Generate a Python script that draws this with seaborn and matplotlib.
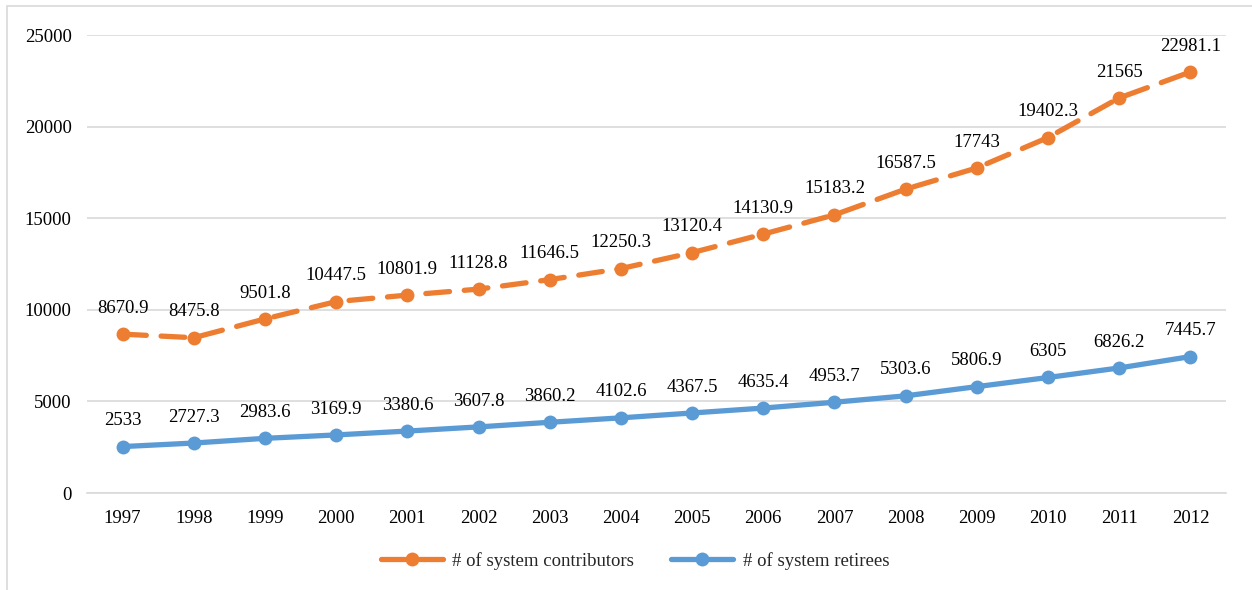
import matplotlib
matplotlib.use("Agg")
import matplotlib.pyplot as plt
import seaborn as sns
import pandas as pd
from matplotlib.patches import Rectangle

years = ["1997", "1998", "1999", "2000", "2001", "2002", "2003", "2004",
         "2005", "2006", "2007", "2008", "2009", "2010", "2011", "2012"]
contributors = [8670.9, 8475.8, 9501.8, 10447.5, 10801.9, 11128.8, 11646.5, 12250.3,
                13120.4, 14130.9, 15183.2, 16587.5, 17743, 19402.3, 21565, 22981.1]
retirees = [2533, 2727.3, 2983.6, 3169.9, 3380.6, 3607.8, 3860.2, 4102.6,
            4367.5, 4635.4, 4953.7, 5303.6, 5806.9, 6305, 6826.2, 7445.7]
contrib_labels = ["8670.9", "8475.8", "9501.8", "10447.5", "10801.9", "11128.8", "11646.5",
                  "12250.3", "13120.4", "14130.9", "15183.2", "16587.5", "17743",
                  "19402.3", "21565", "22981.1"]
retiree_labels = ["2533", "2727.3", "2983.6", "3169.9", "3380.6", "3607.8", "3860.2",
                  "4102.6", "4367.5", "4635.4", "4953.7", "5303.6", "5806.9", "6305",
                  "6826.2", "7445.7"]
series_names = ["# of system contributors", "# of system retirees"]

sns.set_theme(style="white")
plt.rcParams['font.family'] = ['Liberation Serif', 'DejaVu Serif']

orange = "#ED7D31"
blue = "#5B9BD5"
FS = 13.5

fig = plt.figure(figsize=(12.52, 5.90), dpi=100)
ax = fig.add_axes([87/1252, 1 - 493/590, (1226-87)/1252, (493-35)/590])

x = list(range(len(years)))
df_c = pd.DataFrame({"x": x, "y": contributors})
df_r = pd.DataFrame({"x": x, "y": retirees})

sns.lineplot(data=df_c, x="x", y="y", ax=ax, color=orange, lw=3.8,
             marker="o", markersize=10, markeredgewidth=0, label=series_names[0],
             dashes=False)
sns.lineplot(data=df_r, x="x", y="y", ax=ax, color=blue, lw=3.8,
             marker="o", markersize=10, markeredgewidth=0, label=series_names[1])
ax.lines[0].set_dashes((4.5, 2.8))
ax.lines[0].set_dash_capstyle("round")
ax.lines[1].set_solid_capstyle("round")

for xi, yi, t in zip(x, contributors, contrib_labels):
    ax.annotate(t, (xi, yi), xytext=(0, 12.5), textcoords="offset points",
                ha="center", va="bottom", fontsize=FS, color="#000000")
for xi, yi, t in zip(x, retirees, retiree_labels):
    ax.annotate(t, (xi, yi), xytext=(0, 12.5), textcoords="offset points",
                ha="center", va="bottom", fontsize=FS, color="#000000")

ax.set_xlim(-0.5, len(years) - 0.5)
ax.set_ylim(0, 25000)
ax.set_yticks([0, 5000, 10000, 15000, 20000, 25000])
ax.set_xticks(x)
ax.set_xticklabels(years)
ax.tick_params(axis="both", labelsize=FS, length=0, colors="#000000")
ax.tick_params(axis="y", pad=11)
ax.tick_params(axis="x", pad=12)
ax.set_xlabel("")
ax.set_ylabel("")
ax.yaxis.grid(True, color="#D9D9D9", lw=1.2)
ax.xaxis.grid(False)
for s in ["top", "right", "left"]:
    ax.spines[s].set_visible(False)
ax.spines["bottom"].set_color("#D9D9D9")
ax.spines["bottom"].set_linewidth(1.2)
ax.set_axisbelow(True)

ax.legend(loc="center", bbox_to_anchor=(635/1252, 1 - 561/590),
          bbox_transform=fig.transFigure, ncol=2, frameon=False,
          fontsize=FS, handlelength=3.3, columnspacing=2.0, handletextpad=0.5)

fig.patches.append(Rectangle((7/1252, -0.1), 1.2, 1 - 6/590 + 0.1,
                             transform=fig.transFigure, fill=False,
                             edgecolor="#D9D9D9", lw=1.2, zorder=-1))

fig.savefig("out.png", dpi=100)
